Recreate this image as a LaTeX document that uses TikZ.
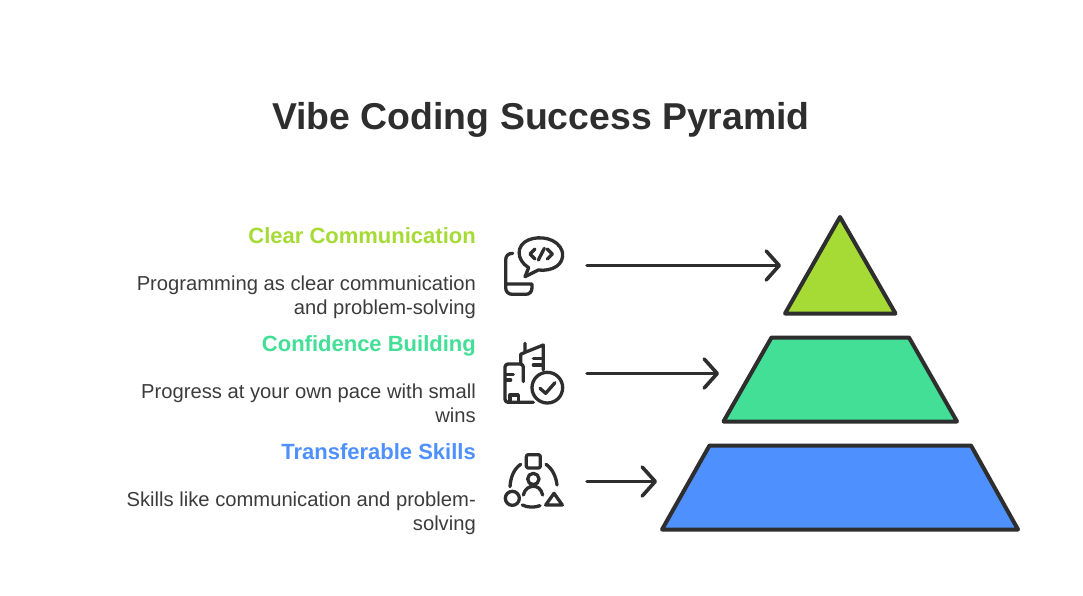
\documentclass[tikz,border=0pt]{standalone}
\usepackage{fontspec}
\setmainfont{Liberation Sans}
\usetikzlibrary{arrows.meta}
\definecolor{ink}{HTML}{2E2E2E}
\definecolor{bodyink}{HTML}{3C3C3C}
\definecolor{lime}{HTML}{A6DB36}
\definecolor{mint}{HTML}{43DF96}
\definecolor{azure}{HTML}{4D90FE}
\tikzset{
  tier/.style={draw=ink,line width=4pt,line join=round},
  link/.style={draw=ink,line width=3.6pt,line cap=round,-{Straight Barb[length=13pt,width=29pt,line cap=round,line join=round]}},
  iconline/.style={draw=ink,line width=3.3pt,line cap=round,line join=round,fill=none},
  headtext/.style={anchor=base east,inner sep=0pt,font=\fontsize{22}{26}\selectfont\bfseries},
  bodytext/.style={anchor=base east,inner sep=0pt,font=\fontsize{20.2}{24}\selectfont,text=bodyink},
}
\begin{document}
\begin{tikzpicture}[x=1pt,y=-1pt]
\useasboundingbox (0,0) rectangle (1083,595);
\fill[white] (0,0) rectangle (1083,595);
\node[anchor=base,inner sep=0pt,text=ink,font=\fontsize{37.4}{44}\selectfont\bfseries] (title) at (541,129) {Vibe Coding Success Pyramid};

% tiers
\draw[tier,fill=lime] (840,217) -- (895.5,313.5) -- (785,313.5) -- cycle;
\draw[tier,fill=mint] (771.5,337.5) -- (909,337.5) -- (957,421.5) -- (723.5,421.5) -- cycle;
\draw[tier,fill=azure] (709.5,445.5) -- (971,445.5) -- (1018,529.5) -- (662,529.5) -- cycle;

% connectors
\coordinate (a1s) at (587,265.5); \coordinate (a1e) at (781,265.5);
\coordinate (a2s) at (587,373.5); \coordinate (a2e) at (719,373.5);
\coordinate (a3s) at (587,481.5); \coordinate (a3e) at (657,481.5);
\draw[link] (a1s) -- (a1e);
\draw[link] (a2s) -- (a2e);
\draw[link] (a3s) -- (a3e);

% texts
\node[headtext,text=lime] (h1) at (476,243) {Clear Communication};
\node[bodytext] (b1a) at (476,290.5) {Programming as clear communication};
\node[bodytext] (b1b) at (476,314.5) {and problem-solving};
\node[headtext,text=mint] (h2) at (476,351) {Confidence Building};
\node[bodytext] (b2a) at (476,398.5) {Progress at your own pace with small};
\node[bodytext] (b2b) at (476,422.5) {wins};
\node[headtext,text=azure] (h3) at (476,459) {Transferable Skills};
\node[bodytext] (b3a) at (476,506.5) {Skills like communication and problem-};
\node[bodytext] (b3b) at (476,530.5) {solving};

% icon 1
\begin{scope}[xshift=490pt,yshift=-225pt,x=0.3333pt,y=-0.3333pt]
\draw[iconline] (105,155) -- (116,128) .. controls (78,105) and (78,60) .. (115,45)
  .. controls (150,30) and (205,40) .. (217,80) .. controls (225,120) and (185,140) .. (145,135) -- cycle;
\draw[iconline] (135,72) -- (120,87) -- (135,102);
\draw[iconline] (172,72) -- (187,87) -- (172,102);
\draw[iconline] (163,70) -- (145,105);
\draw[iconline] (68,85) .. controls (55,85) and (47,92) .. (47,105) -- (47,188) .. controls (47,200) and (55,208) .. (67,208) -- (107,208) .. controls (119,208) and (126,200) .. (126,188) -- (126,177) -- (50,177);
\end{scope}

% icon 2
\begin{scope}[xshift=490pt,yshift=-335pt,x=0.3333pt,y=-0.3333pt]
\draw[iconline,rounded corners=3pt] (100,140) -- (100,87) -- (45,87) -- (45,202) -- (130,202);
\draw[iconline] (47,118) -- (70,118);
\draw[iconline] (47,135) -- (62,135);
\draw[iconline] (60,200) -- (60,180) -- (85,180) -- (85,200);
\draw[iconline] (92,85) -- (92,58) -- (105,52) -- (105,25);
\draw[iconline] (105,52) -- (160,30) -- (160,105);
\draw[iconline] (130,70) -- (157,70);
\draw[iconline] (130,90) -- (157,90);
\draw[iconline] (172,158) circle[radius=46];
\draw[iconline] (150,160) -- (167,175) -- (195,143);
\end{scope}

% icon 3
\begin{scope}[xshift=490pt,yshift=-445pt,x=0.3333pt,y=-0.3333pt]
\draw[iconline,rounded corners=2pt] (109,29) rectangle (151,69);
\draw[iconline] (92,58) .. controls (72,72) and (62,95) .. (60,125);
\draw[iconline] (168,58) .. controls (188,72) and (198,95) .. (201,120);
\draw[iconline] (97,180) .. controls (112,188) and (135,188) .. (150,182);
\draw[iconline] (130,102) circle[radius=17];
\draw[iconline] (100,150) .. controls (105,130) and (118,124) .. (130,124) .. controls (142,124) and (153,130) .. (158,150);
\draw[iconline] (67,160) circle[radius=21];
\draw[iconline] (192,145) -- (167,180) -- (217,180) -- cycle;
\end{scope}
\end{tikzpicture}
\end{document}
